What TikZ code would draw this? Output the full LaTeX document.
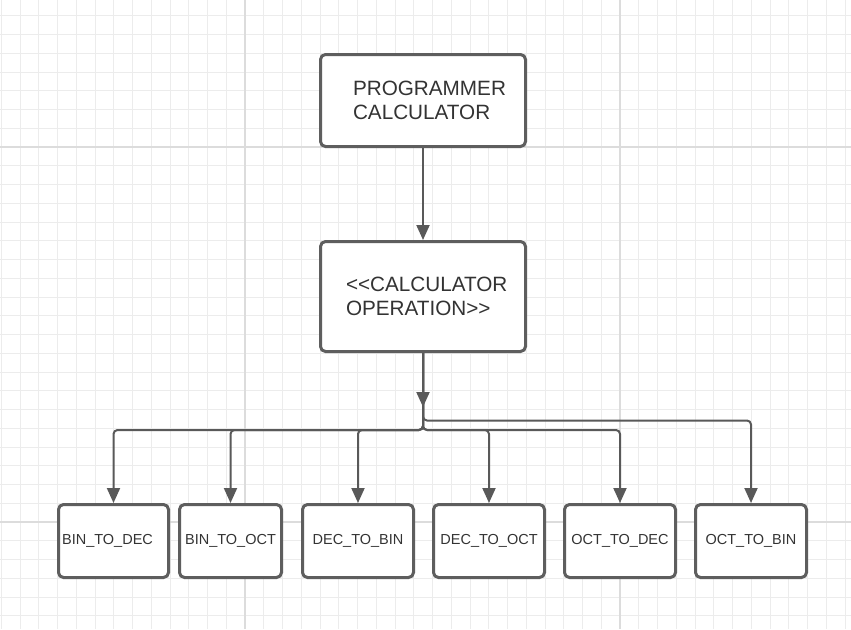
\documentclass[tikz,border=0pt]{standalone}
\usepackage{fontspec}
\setmainfont{Liberation Sans}
\usepackage{tikz}
\usetikzlibrary{arrows.meta}
\definecolor{GridMinor}{RGB}{236,236,236}
\definecolor{GridMajor}{RGB}{220,220,220}
\definecolor{BoxLine}{RGB}{94,94,94}
\definecolor{LinkLine}{RGB}{89,89,89}
\definecolor{TextDark}{RGB}{51,51,51}

\begin{document}
\begin{tikzpicture}[x=1pt, y=-1pt,
    bigbox/.style={draw=BoxLine, line width=3pt, rounded corners=5pt, fill=white, text=TextDark, align=left, font=\fontsize{20.7}{24.5}\selectfont},
    smallbox/.style={draw=BoxLine, line width=3pt, rounded corners=5pt, fill=white, text=TextDark, minimum height=73pt, inner sep=0pt, font=\fontsize{14.5}{17}\selectfont},
    link/.style={draw=LinkLine, line width=2pt, rounded corners=4pt, -{Triangle[length=15pt,width=13pt]}}]
            %% Background grid
            \useasboundingbox (0,0) rectangle (851,629);
            \fill[white] (0,0) rectangle (851,629);
            \foreach \i in {0,...,45}
                \draw[GridMinor, line width=1pt] ({1.25+18.75*\i},0) -- ({1.25+18.75*\i},629);
            \foreach \j in {0,...,33}
                \draw[GridMinor, line width=1pt] (0,{15.75+18.75*\j}) -- (851,{15.75+18.75*\j});
            \foreach \k in {245,620}
                \draw[GridMajor, line width=1.5pt] (\k,0) -- (\k,629);
            \foreach \k in {147,522}
                \draw[GridMajor, line width=1.5pt] (0,\k) -- (851,\k);
            %% Main boxes
            \node[bigbox, text width=140pt, inner xsep=32.5pt, minimum height=92pt] (prog) at (423,100.5) {PROGRAMMER\\CALCULATOR};
            \node[bigbox, text width=154pt, inner xsep=25.5pt, minimum height=110pt] (calcop) at (423,296.5) {<{}<CALCULATOR\\OPERATION>{}>};
            %% Operations
            \node[smallbox, minimum width=110pt] (bintodec) at (113.5,541) {BIN\_TO\_DEC\hspace{12pt}\mbox{}};
            \node[smallbox, minimum width=102pt] (bintooct) at (230.5,541) {BIN\_TO\_OCT};
            \node[smallbox, minimum width=111pt] (dectobin) at (358,541) {DEC\_TO\_BIN};
            \node[smallbox, minimum width=111pt] (dectooct) at (489,541) {DEC\_TO\_OCT};
            \node[smallbox, minimum width=111pt] (octtodec) at (620,541) {OCT\_TO\_DEC};
            \node[smallbox, minimum width=111pt] (octtobin) at (751,541) {OCT\_TO\_BIN};
            %% Connectors
            \coordinate (stemtip) at (423,407);
            \draw[link] (prog) -- (calcop);
            \draw[link] (calcop.south) -- (stemtip);
            \foreach \b in {bintodec,bintooct,dectobin,dectooct,octtodec}
                \draw[link] (calcop.south) -- ++(0,77) -| (\b.north);
            \draw[link] (calcop.south) -- ++(0,67.5) -| (octtobin.north);
\end{tikzpicture}
\end{document}
